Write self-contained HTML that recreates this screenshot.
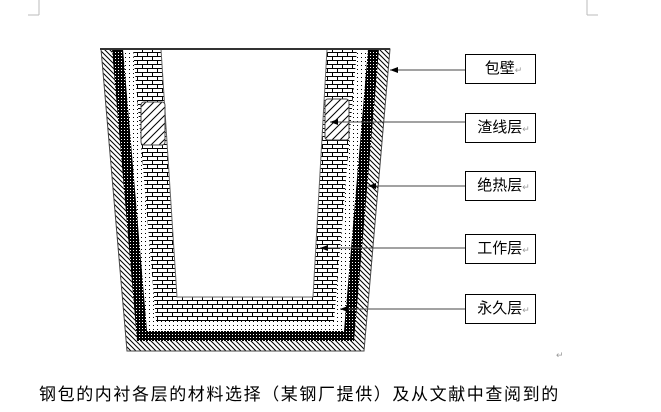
<!DOCTYPE html>
<html><head><meta charset="utf-8"><style>
body{margin:0;width:661px;height:412px;background:#fff;overflow:hidden;position:relative;font-family:"Liberation Sans","Noto Sans CJK SC",sans-serif}
.b{position:absolute;left:465px;width:71px;height:30px;border:1px solid #000;box-sizing:border-box;font-size:15px;line-height:28px;text-align:center;padding-left:6px}
.r{font-size:9px;color:#999}
</style></head><body>
<svg width="661" height="412" style="position:absolute;left:0;top:0">
<defs>
<pattern id="h" width="5" height="5" patternUnits="userSpaceOnUse"><rect width="5" height="5" fill="#fff"/><path d="M0,0L5,5M-1,4L1,6M4,-1L6,1" stroke="#000" stroke-width="1"/></pattern>
<pattern id="bd" width="3" height="3" patternUnits="userSpaceOnUse"><rect width="3" height="3" fill="#000"/><rect x="1" y="1" width="1" height="1" fill="#fff"/></pattern>
<pattern id="wd" width="4" height="4" patternUnits="userSpaceOnUse"><rect width="4" height="4" fill="#fff"/><rect x="1" y="1" width="1" height="1" fill="#000"/></pattern>
<pattern id="br" width="10" height="8" patternUnits="userSpaceOnUse"><rect width="10" height="8" fill="#fff"/><path d="M0,0.5H10M0,4.5H10M2.5,0V4M7.5,4V8" stroke="#000" stroke-width="1"/></pattern>
<pattern id="sl" width="8" height="8" patternUnits="userSpaceOnUse"><rect width="8" height="8" fill="#fff"/><path d="M0,8L8,0M-2,2L2,-2M6,10L10,6" stroke="#000"/></pattern>
<marker id="a" markerWidth="8" markerHeight="6" refX="8" refY="3" orient="auto"><path d="M0,0L8,3L0,6z" fill="#000"/></marker>
</defs>
<line x1="39" y1="0" x2="39" y2="15" stroke="#bbb"/><line x1="28" y1="15" x2="39" y2="15" stroke="#bbb"/>
<line x1="587" y1="0" x2="587" y2="15" stroke="#bbb"/><line x1="587" y1="15" x2="598" y2="15" stroke="#bbb"/>
<polygon points="101,49 390,49 364,351 127,351" fill="url(#h)" stroke="#444"/>
<polygon points="112,49 379,49 354,341 137,341" fill="url(#bd)"/>
<polygon points="123,49 368,49 344,331 147,331" fill="url(#wd)"/>
<polygon points="133,49 357,49 334,321 156,321" fill="url(#br)"/>
<polygon points="161,49 327,49 313,297 177,297" fill="#fff" stroke="#666"/>
<rect x="141" y="102" width="24" height="43" rx="3" fill="url(#sl)" stroke="#444"/>
<rect x="325" y="99" width="24" height="41" rx="3" fill="url(#sl)" stroke="#444"/>
<line x1="100" y1="49" x2="390" y2="49" stroke="#333" stroke-width="2"/>
<g stroke="#444" stroke-width="1" marker-end="url(#a)">
<line x1="465" y1="70" x2="390" y2="70"/>
<line x1="465" y1="122" x2="330" y2="122"/>
<line x1="465" y1="186" x2="368" y2="186"/>
<line x1="465" y1="248" x2="320" y2="248"/>
<line x1="465" y1="309" x2="340" y2="309"/>
</g>
</svg>
<div class="b" style="top:54px">包壁<span class="r">↵</span></div>
<div class="b" style="top:113px">渣线层<span class="r">↵</span></div>
<div class="b" style="top:171px">绝热层<span class="r">↵</span></div>
<div class="b" style="top:234px">工作层<span class="r">↵</span></div>
<div class="b" style="top:294px">永久层<span class="r">↵</span></div>
<div class="r" style="position:absolute;left:556px;top:350px">↵</div>
<div style="position:absolute;left:39px;top:380px;font-size:17px;letter-spacing:1.6px;white-space:nowrap">钢包的内衬各层的材料选择（某钢厂提供）及从文献中查阅到的</div>
</body></html>
